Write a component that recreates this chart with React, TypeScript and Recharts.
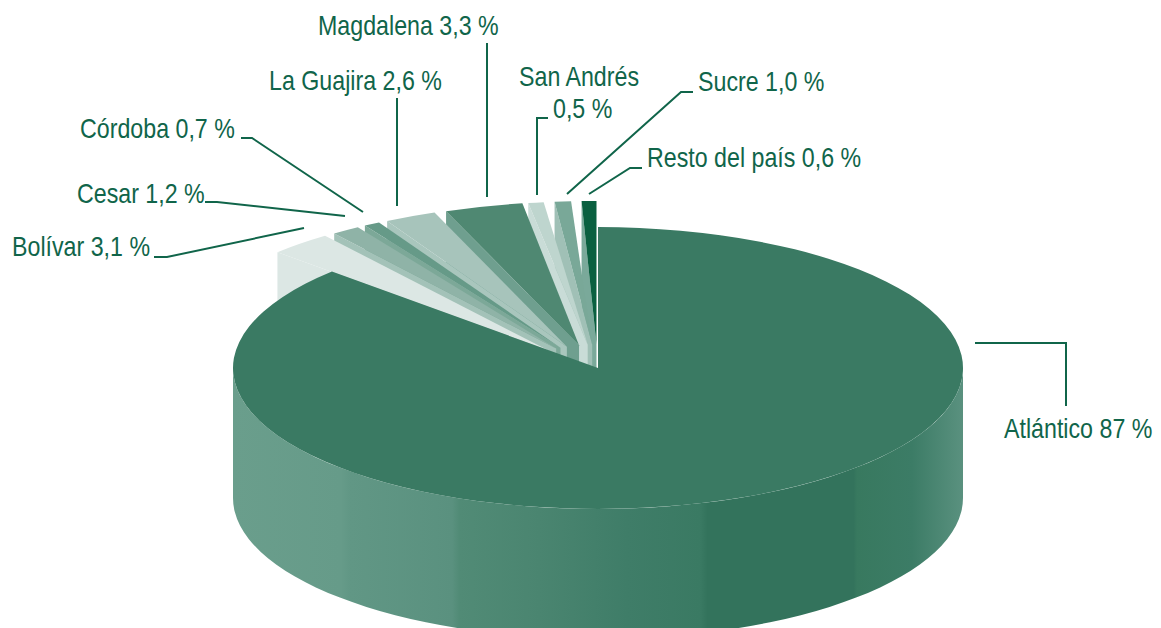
import React from "react";
import { PieChart, Pie } from "recharts";

// Data, in drawing order: counter-clockwise from the top of the pie
const regions = ["Resto del país", "Sucre", "San Andrés", "Magdalena", "La Guajira", "Córdoba", "Cesar", "Bolívar", "Atlántico"];
const shares = [0.6, 1.0, 0.5, 3.3, 2.6, 0.7, 1.2, 3.1, 87];
const labelTexts = [["Resto del país 0,6 %"], ["Sucre 1,0 %"], ["San Andrés", "0,5 %"], ["Magdalena 3,3 %"], ["La Guajira 2,6 %"], ["Córdoba 0,7 %"], ["Cesar 1,2 %"], ["Bolívar 3,1 %"], ["Atlántico 87 %"]];

// Styles
const topColors = ["#0a6040", "#79a898", "#bed5ce", "#4f8872", "#a7c4bb", "#669a88", "#8fb3a7", "#dce7e4", "#3a7a63"];
const sideColors = ["#7aa99a", "#a0c0b6", "#c9dcd7", "#6f9f8f", "#a9c6bd", "#7ca898", "#a3c2b8", "#dce7e4", "#3a7a63"];
const INK = "#10654a";
const wallStops: [number, string][] = [
  [0, "#6a9e8c"], [0.148, "#669b89"], [0.16, "#619785"], [0.3, "#5a917f"], [0.31, "#518b76"],
  [0.42, "#4a8570"], [0.54, "#3f7d68"], [0.64, "#3a7a63"], [0.65, "#33735c"], [0.85, "#33735c"],
  [0.855, "#38795f"], [0.93, "#3c7c66"], [1, "#5a917f"],
];

// Layout
const CX = 598, CY = 368, RX = 365, SQUASH = 0.386, DEPTH = 130;
const EXPLODE_X = 74, EXPLODE_Y = 23.5, EXPLODED_RADIUS = 372;
// how far each slice's drawn edges stray from the exact angle, in degrees [start, end]
const edgeNudge: [number, number][] = [[0, 0.14], [1.09, 0.04], [1.04, 1.64], [1.2, 1.5], [1.4, 0.1], [0.4, 0.4], [0.9, 1.0], [1.3, 0], [0, 0]];
const TEXT_SIZE = 27, TEXT_STRETCH = 0.86;
const labelPos: { x: number; y: number }[][] = [
  [{ x: 647, y: 167 }], [{ x: 698, y: 91 }], [{ x: 519, y: 86 }, { x: 553, y: 118 }], [{ x: 318, y: 35 }],
  [{ x: 269, y: 90 }], [{ x: 80, y: 138 }], [{ x: 77, y: 203 }], [{ x: 12, y: 256 }], [{ x: 1004, y: 438 }],
];
const leaders = [
  "642,168 630,168 589,194", "693,92 681,92 567,194", "548,118 537,118 537,195", "487,43 487,197",
  "397,98 397,206", "241,138 252,138 363,212", "205,202 217,202 345,216", "154,257 167,257 304,228", "975,343 1066,343 1066,406",
];

const chartData = regions.map((name, i) => ({ name, value: shares[i], fill: topColors[i], idx: i }));
const rad = (d: number) => (d * Math.PI) / 180;

function Slice3D(props: any) {
  const { cx, cy, outerRadius, startAngle, endAngle, payload } = props;
  const i = payload?.idx ?? props.idx;
  const k = SQUASH;
  const isMain = i === regions.length - 1;
  const a0 = startAngle + edgeNudge[i][0];
  const a1 = endAngle + edgeNudge[i][1];
  const R = isMain ? outerRadius : EXPLODED_RADIUS;
  const mid = (a0 + a1) / 2;
  const ax = cx + (isMain ? 0 : EXPLODE_X) * Math.cos(rad(mid));
  const ay = cy - (isMain ? 0 : EXPLODE_Y) * Math.sin(rad(mid));
  const p = (a: number) => [ax + R * Math.cos(rad(a)), ay - R * k * Math.sin(rad(a))];
  const [sx, sy] = p(a0);
  const [ex, ey] = p(a1);
  const large = a1 - a0 > 180 ? 1 : 0;
  const top = `M${ax},${ay}L${sx},${sy}A${R},${R * k} 0 ${large} 0 ${ex},${ey}Z`;
  if (isMain) {
    const wall = `M${cx - R},${cy}A${R},${R * k} 0 0 0 ${cx + R},${cy}L${cx + R},${cy + DEPTH}A${R},${R * k} 0 0 1 ${cx - R},${cy + DEPTH}Z`;
    return (
      <g>
        <defs>
          <linearGradient id="wallGrad" x1="0" x2="1" y1="0" y2="0">
            {wallStops.map(([o, c], n) => <stop key={n} offset={o} stopColor={c} />)}
          </linearGradient>
        </defs>
        <path d={wall} fill="url(#wallGrad)" />
        <path d={top} fill={topColors[i]} />
      </g>
    );
  }
  const side = `M${ax},${ay}L${ex},${ey}L${ex},${ey + DEPTH}L${ax},${ay + DEPTH}Z`;
  return (
    <g>
      <path d={side} fill={sideColors[i]} />
      <path d={top} fill={topColors[i]} />
    </g>
  );
}

function LeaderLabel(props: any) {
  const i = props.index;
  return (
    <g>
      <polyline points={leaders[i]} fill="none" stroke={INK} strokeWidth={2} />
      {labelTexts[i].map((t, n) => (
        <text key={n} transform={`translate(${labelPos[i][n].x},${labelPos[i][n].y}) scale(${TEXT_STRETCH},1)`}
          x={0} y={0} fill={INK} fontSize={TEXT_SIZE} textAnchor="start"
          style={{ fontFamily: '"Liberation Sans", sans-serif' }}>{t}</text>
      ))}
    </g>
  );
}

export default function App() {
  return (
    <div style={{ position: "absolute", left: 0, top: 0, width: 1161, height: 628, overflow: "hidden", background: "#fff" }}>
      <PieChart width={1161} height={628} margin={{ top: 0, right: 0, bottom: 0, left: 0 }}>
        <Pie data={chartData} dataKey="value" nameKey="name" cx={CX} cy={CY} innerRadius={0} outerRadius={RX}
          startAngle={90} endAngle={450} stroke="none" isAnimationActive={false}
          shape={Slice3D} label={LeaderLabel} labelLine={false} />
      </PieChart>
    </div>
  );
}
